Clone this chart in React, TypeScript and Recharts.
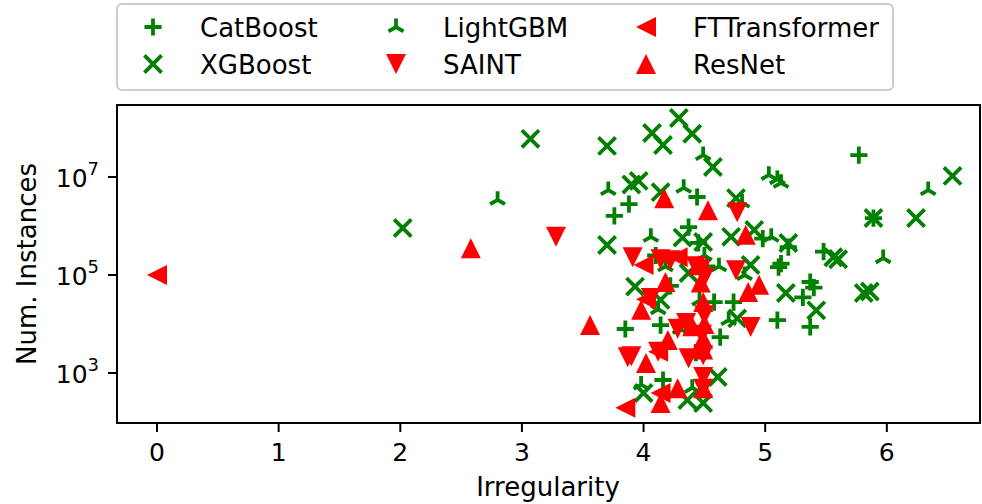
import React from 'react';
import { ScatterChart, Scatter, XAxis, YAxis, ReferenceArea, Legend, Label } from 'recharts';

const GREEN = '#008000';
const RED = '#ff0000';
const FONT = 'DejaVu Sans, Verdana, sans-serif';

// ---- data (irregularity, number of instances) ----
const catboostIrr = [5.77, 3.88, 3.76, 4.44, 4.37, 5.19, 5.48, 5.37, 5.31, 5.37, 5.13, 5.89, 3.85, 4.58, 4.74, 5.11, 4.14, 4.63, 4.43, 4.16, 5.10, 4.45, 4.22, 4.52, 4.98, 5.40, 4.10];
const catboostInst = [2.8e7, 2.8e6, 1.6e6, 3.9e6, 9.5e5, 3.7e5, 3.0e5, 7.2e4, 3.5e4, 8.7e3, 1.7e5, 1.45e6, 7.9e3, 2.8e4, 2.8e4, 1.45e5, 9.5e3, 5.4e3, 2.6e3, 720, 1.2e4, 4.5e5, 6e4, 1.5e5, 5.5e5, 5.5e4, 2.5e5];

const xgboostIrr = [2.02, 3.07, 3.70, 4.07, 4.16, 4.29, 4.40, 4.57, 3.90, 3.96, 3.70, 3.93, 4.14, 4.76, 4.91, 5.19, 4.32, 4.49, 4.72, 6.54, 6.24, 5.56, 5.60, 5.81, 5.86, 5.42, 5.17, 5.89, 4.88, 4.77, 4.61, 4.00, 4.36, 4.49, 4.14, 4.37];
const xgboostInst = [9.1e5, 6.0e7, 4.3e7, 7.9e7, 4.5e7, 1.6e8, 7.6e7, 1.6e7, 7.0e6, 8.3e6, 4.1e5, 5.8e4, 4.9e6, 3.7e6, 8.3e5, 4.5e5, 5.8e5, 4.7e5, 6.0e5, 1.05e7, 1.45e6, 2.3e5, 2.1e5, 4.3e4, 4.6e4, 1.9e4, 4.3e4, 1.45e6, 1.6e5, 1.3e4, 830, 390, 280, 245, 3.1e4, 1.1e5];

const lightgbmIrr = [2.80, 3.71, 4.06, 4.33, 4.49, 5.03, 5.10, 5.05, 6.34, 5.97, 5.13, 4.18, 4.50, 3.98, 4.40, 4.30, 4.70, 4.46, 4.83, 4.12, 4.62, 4.81];
const lightgbmInst = [3.4e6, 5.4e6, 6.0e5, 6.0e6, 2.8e7, 1.1e7, 9.0e6, 6.0e5, 5.4e6, 2.2e5, 7.6e6, 1.5e5, 2.5e5, 580, 500, 8e3, 1.2e4, 3.0e4, 1.0e5, 2.0e4, 1.5e5, 3.0e6];

const saintIrr = [3.28, 3.91, 4.14, 4.22, 4.43, 4.76, 4.06, 4.88, 4.35, 3.87, 3.90, 4.49, 4.12, 4.37, 4.49, 4.49, 4.77, 4.28, 4.50, 4.47, 4.50, 4.48];
const saintInst = [6.0e5, 2.3e5, 2.1e5, 2.0e5, 1.5e5, 1.25e5, 3.4e4, 8.7e3, 1.05e4, 2.1e3, 2.2e3, 2.3e3, 2.7e3, 2.0e3, 830, 480, 1.9e6, 8e3, 1.5e4, 1.3e5, 9e4, 6e3];

const ftIrr = [0.0, 3.85, 4.00, 4.12, 4.14, 4.28, 4.02, 4.45];
const ftInst = [1e5, 195, 1.6e5, 2.7e3, 390, 2.3e5, 3.2e4, 1.3e5];

const resnetIrr = [2.58, 3.56, 4.17, 4.53, 4.84, 3.98, 4.18, 4.49, 4.86, 4.95, 4.28, 4.14, 4.49, 4.20, 4.49, 4.45, 4.40, 4.50, 4.02, 4.49, 4.47];
const resnetInst = [3.5e5, 9.5e3, 3.7e6, 2.1e6, 6.6e5, 1.95e4, 7.2e4, 2.8e4, 4.5e4, 6.3e4, 490, 245, 490, 4.7e3, 3.0e3, 1.6e5, 9e3, 1.0e4, 1.6e3, 5e3, 7e4];

const xTicks = [0, 1, 2, 3, 4, 5, 6];
const yTicks = [1e3, 1e5, 1e7];
const xDomain = [-0.329, 6.766];
const yDomain = [95.5, 2.94e8];

const zip = (xs: number[], ys: number[]) => xs.map((x, i) => ({ x, y: ys[i] }));

type Kind = 'plus' | 'x' | 'tri' | 'down' | 'left' | 'up';

const Marker = ({ kind, cx, cy }: { kind: Kind; cx: number; cy: number }) => {
  if (cx == null || cy == null) return null;
  const a = 8.6;
  const sw = 3.8;
  switch (kind) {
    case 'plus':
      return <path d={`M${cx - a},${cy}H${cx + a}M${cx},${cy - a}V${cy + a}`} stroke={GREEN} strokeWidth={sw} fill="none" />;
    case 'x':
      return <path d={`M${cx - a},${cy - a}L${cx + a},${cy + a}M${cx - a},${cy + a}L${cx + a},${cy - a}`} stroke={GREEN} strokeWidth={sw} fill="none" />;
    case 'tri':
      return <path d={`M${cx},${cy}V${cy - a}M${cx},${cy}L${cx - a * 0.866},${cy + a * 0.5}M${cx},${cy}L${cx + a * 0.866},${cy + a * 0.5}`} stroke={GREEN} strokeWidth={sw} fill="none" />;
    case 'down':
      return <polygon points={`${cx - 10},${cy - 10} ${cx + 10},${cy - 10} ${cx},${cy + 10}`} fill={RED} />;
    case 'up':
      return <polygon points={`${cx},${cy - 10} ${cx - 10},${cy + 10} ${cx + 10},${cy + 10}`} fill={RED} />;
    case 'left':
      return <polygon points={`${cx - 10},${cy} ${cx + 10},${cy - 10} ${cx + 10},${cy + 10}`} fill={RED} />;
  }
  return null;
};

const series: { name: string; kind: Kind; data: { x: number; y: number }[] }[] = [
  { name: 'CatBoost', kind: 'plus', data: zip(catboostIrr, catboostInst) },
  { name: 'XGBoost', kind: 'x', data: zip(xgboostIrr, xgboostInst) },
  { name: 'LightGBM', kind: 'tri', data: zip(lightgbmIrr, lightgbmInst) },
  { name: 'SAINT', kind: 'down', data: zip(saintIrr, saintInst) },
  { name: 'FTTransformer', kind: 'left', data: zip(ftIrr, ftInst) },
  { name: 'ResNet', kind: 'up', data: zip(resnetIrr, resnetInst) },
];

const legendPos: Record<string, [number, number]> = {
  CatBoost: [153, 27],
  XGBoost: [153, 64],
  LightGBM: [396, 27],
  SAINT: [396, 64],
  FTTransformer: [646, 27],
  ResNet: [646, 64],
};

const LegendBox = () => (
  <svg width={982} height={100} style={{ display: 'block' }}>
    <rect x={117} y={4} width={776} height={86} rx={5} fill="#fff" fillOpacity={0.8} stroke="#cccccc" strokeWidth={2} />
    {series.map((s) => {
      const [mx, my] = legendPos[s.name];
      return (
        <g key={s.name}>
          <Marker kind={s.kind} cx={mx} cy={my} />
          <text x={mx + 47} y={my + 9.5} fontSize={26} fontFamily={FONT} fill="#000">{s.name}</text>
        </g>
      );
    })}
  </svg>
);

const XTick = (props: any) => {
  const { x, payload } = props;
  return (
    <text x={x} y={461} textAnchor="middle" fontSize={25} fontFamily={FONT} fill="#000">{payload.value}</text>
  );
};

const YTick = (props: any) => {
  const { y, payload } = props;
  const exp = Math.round(Math.log10(payload.value));
  return (
    <text x={99} y={y + 10} textAnchor="end" fontSize={25} fontFamily={FONT} fill="#000">
      <tspan>10</tspan>
      <tspan dy={-12} fontSize={18}>{exp}</tspan>
    </text>
  );
};

export default function App() {
  return (
    <div style={{ position: 'absolute', left: 0, top: 0, width: 982, height: 504, background: '#fff' }}>
      <ScatterChart width={982} height={504} margin={{ top: 105, right: 2, bottom: 0, left: 57 }}>
        <XAxis
          type="number"
          dataKey="x"
          domain={xDomain}
          ticks={xTicks}
          allowDataOverflow
          height={81}
          axisLine={false}
          tickLine={{ stroke: '#000', strokeWidth: 2 }}
          tickSize={9}
          tick={<XTick />}
          interval={0}
        >
          <Label
            content={() => (
              <text x={548} y={496} textAnchor="middle" fontSize={26} fontFamily={FONT} fill="#000">Irregularity</text>
            )}
          />
        </XAxis>
        <YAxis
          type="number"
          dataKey="y"
          scale="log"
          domain={yDomain}
          ticks={yTicks}
          allowDataOverflow
          width={60}
          axisLine={false}
          tickLine={{ stroke: '#000', strokeWidth: 2 }}
          tickSize={9}
          tick={<YTick />}
          interval={0}
        >
          <Label
            content={() => (
              <text x={36} y={264} transform="rotate(-90 36 264)" textAnchor="middle" fontSize={26} fontFamily={FONT} fill="#000">Num. Instances</text>
            )}
          />
        </YAxis>
        {series.map((s) => (
          <Scatter
            key={s.name}
            name={s.name}
            data={s.data}
            isAnimationActive={false}
            shape={(p: any) => <Marker kind={s.kind} cx={p.cx} cy={p.cy} />}
          />
        ))}
        <ReferenceArea
          x1={xDomain[0]}
          x2={xDomain[1]}
          y1={yDomain[0]}
          y2={yDomain[1]}
          fill="none"
          fillOpacity={0}
          stroke="#000"
          strokeWidth={2}
          ifOverflow="visible"
        />
        <Legend
          verticalAlign="middle"
          align="center"
          layout="horizontal"
          wrapperStyle={{ top: 0, left: 0, width: 982, height: 100 }}
          content={() => <LegendBox />}
        />
      </ScatterChart>
    </div>
  );
}
